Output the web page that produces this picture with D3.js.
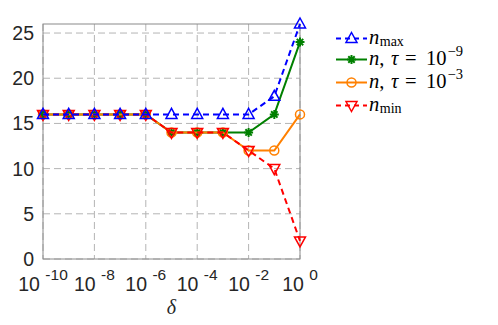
<!DOCTYPE html>
<html>
<head>
<meta charset="utf-8">
<script src="https://cdn.jsdelivr.net/npm/d3@7"></script>
<style>
  body { margin: 0; background: #fff; }
  svg { display: block; }
</style>
</head>
<body>
<svg id="chart" width="498" height="325"></svg>
<script>
const deltas = [1e-10, 1e-9, 1e-8, 1e-7, 1e-6, 1e-5, 1e-4, 1e-3, 1e-2, 1e-1, 1]
const nMax = [16, 16, 16, 16, 16, 16, 16, 16, 16, 18, 26]
const nTau9 = [16, 16, 16, 16, 16, 14, 14, 14, 14, 16, 24]
const nTau3 = [16, 16, 16, 16, 16, 14, 14, 14, 12, 12, 16]
const nMin = [16, 16, 16, 16, 16, 14, 14, 14, 12, 10, 2]
const xTickExps = [-10, -8, -6, -4, -2, 0]
const yTicks = [0, 5, 10, 15, 20, 25]

const plotLeft = 43
const plotRight = 300
const plotTop = 24
const plotBottom = 259
const axisFont = 'Liberation Sans, Arial, sans-serif'
const mathFont = 'Liberation Serif, DejaVu Serif, serif'

const svg = d3.select('#chart')

const xScale = d3.scaleLog().domain([1e-10, 1]).range([plotLeft, plotRight])
const yScale = d3.scaleLinear().domain([0, 26]).range([plotBottom, plotTop])

// grid
svg.append('g')
  .selectAll('line')
  .data(yTicks)
  .enter()
  .append('line')
  .attr('x1', plotLeft).attr('x2', plotRight)
  .attr('y1', d => yScale(d)).attr('y2', d => yScale(d))
  .attr('stroke', '#b4b4b4').attr('stroke-width', 1)
  .attr('stroke-dasharray', '7,4')

svg.append('g')
  .selectAll('line')
  .data(xTickExps)
  .enter()
  .append('line')
  .attr('x1', d => xScale(Math.pow(10, d))).attr('x2', d => xScale(Math.pow(10, d)))
  .attr('y1', plotTop).attr('y2', plotBottom)
  .attr('stroke', '#b4b4b4').attr('stroke-width', 1)
  .attr('stroke-dasharray', '7,4')

// box
svg.append('rect')
  .attr('x', plotLeft).attr('y', plotTop)
  .attr('width', plotRight - plotLeft).attr('height', plotBottom - plotTop)
  .attr('fill', 'none').attr('stroke', '#8a8a8a').attr('stroke-width', 1)

// y axis labels
svg.append('g')
  .selectAll('text')
  .data(yTicks)
  .enter()
  .append('text')
  .attr('x', plotLeft - 9)
  .attr('y', d => yScale(d) + 7)
  .attr('text-anchor', 'end')
  .style('font-family', axisFont)
  .style('font-size', '19.5px')
  .attr('fill', '#262626')
  .text(d => d)

// x axis labels
const xLabels = svg.append('g')
  .selectAll('text')
  .data(xTickExps)
  .enter()
  .append('text')
  .attr('x', d => xScale(Math.pow(10, d)))
  .attr('y', 291)
  .attr('text-anchor', 'middle')
  .style('font-family', axisFont)
  .style('font-size', '19.5px')
  .attr('fill', '#262626')
xLabels.append('tspan').text('10 ')
xLabels.append('tspan')
  .attr('dy', -11)
  .style('font-size', '15.5px')
  .text(d => d)

svg.append('text')
  .attr('x', (plotLeft + plotRight) / 2)
  .attr('y', 314)
  .attr('text-anchor', 'middle')
  .style('font-family', mathFont)
  .style('font-style', 'italic')
  .style('font-size', '20px')
  .attr('fill', '#262626')
  .text('δ')

// markers
const triUp = 'M0,-6L5.5,4L-5.5,4Z'
const triDown = 'M0,6L5.5,-4L-5.5,-4Z'
const star = 'M-4.5,0L4.5,0M0,-4.5L0,4.5M-3.2,-3.2L3.2,3.2M-3.2,3.2L3.2,-3.2'
const circle = 'M4.5,0A4.5,4.5 0 1,1 -4.5,0A4.5,4.5 0 1,1 4.5,0Z'

const series = [
  {values: nTau9, color: '#008000', dash: null, marker: star},
  {values: nTau3, color: '#ff8000', dash: null, marker: circle},
  {values: nMin, color: '#ff0000', dash: '6,4', marker: triDown},
  {values: nMax, color: '#0000ff', dash: '6,4', marker: triUp}
]

const line = d3.line()
  .x(d => xScale(d[0]))
  .y(d => yScale(d[1]))

series.forEach(s => {
  const pts = deltas.map((d, i) => [d, s.values[i]])
  const g = svg.append('g')
  g.append('path')
    .attr('d', line(pts))
    .attr('fill', 'none')
    .attr('stroke', s.color)
    .attr('stroke-width', 2)
    .attr('stroke-dasharray', s.dash)
  g.selectAll('path.m')
    .data(pts)
    .enter()
    .append('path')
    .attr('class', 'm')
    .attr('transform', d => 'translate(' + xScale(d[0]) + ',' + yScale(d[1]) + ')')
    .attr('d', s.marker)
    .attr('fill', 'none')
    .attr('stroke', s.color)
    .attr('stroke-width', s.marker === star ? 2 : 1.5)
})

// legend
const legendItems = [
  {color: '#0000ff', dash: '6,4', marker: triUp, y: 38.5, label: 'max'},
  {color: '#008000', dash: null, marker: star, y: 59.5, label: '-9'},
  {color: '#ff8000', dash: null, marker: circle, y: 82.5, label: '-3'},
  {color: '#ff0000', dash: '6,4', marker: triDown, y: 105.5, label: 'min'}
]

legendItems.forEach(item => {
  const g = svg.append('g')
  g.append('line')
    .attr('x1', 336).attr('x2', 367)
    .attr('y1', item.y).attr('y2', item.y)
    .attr('stroke', item.color).attr('stroke-width', 2)
    .attr('stroke-dasharray', item.dash ? '5,4' : null)
  g.append('path')
    .attr('transform', 'translate(351.5,' + item.y + ')')
    .attr('d', item.marker)
    .attr('fill', 'none')
    .attr('stroke', item.color)
    .attr('stroke-width', item.marker === star ? 2 : 1.5)
  const t = g.append('text')
    .attr('x', 369)
    .attr('y', item.y + 5)
    .style('font-family', mathFont)
    .style('font-size', '20.5px')
    .attr('fill', '#000')
  t.append('tspan').style('font-style', 'italic').text('n')
  if (item.label === 'max' || item.label === 'min') {
    t.append('tspan')
      .attr('dy', 2.5)
      .attr('dx', 0.5)
      .style('font-size', '14px')
      .text(item.label)
  } else {
    t.append('tspan').text(',')
    t.append('tspan').attr('x', 391).style('font-style', 'italic').text('τ')
    t.append('tspan').attr('x', 405).text('=')
    t.append('tspan').attr('x', 426).text('10')
    t.append('tspan')
      .attr('dy', -9)
      .attr('dx', 1)
      .style('font-size', '14.5px')
      .text(item.label.replace('-', '−'))
  }
})
</script>
</body>
</html>
